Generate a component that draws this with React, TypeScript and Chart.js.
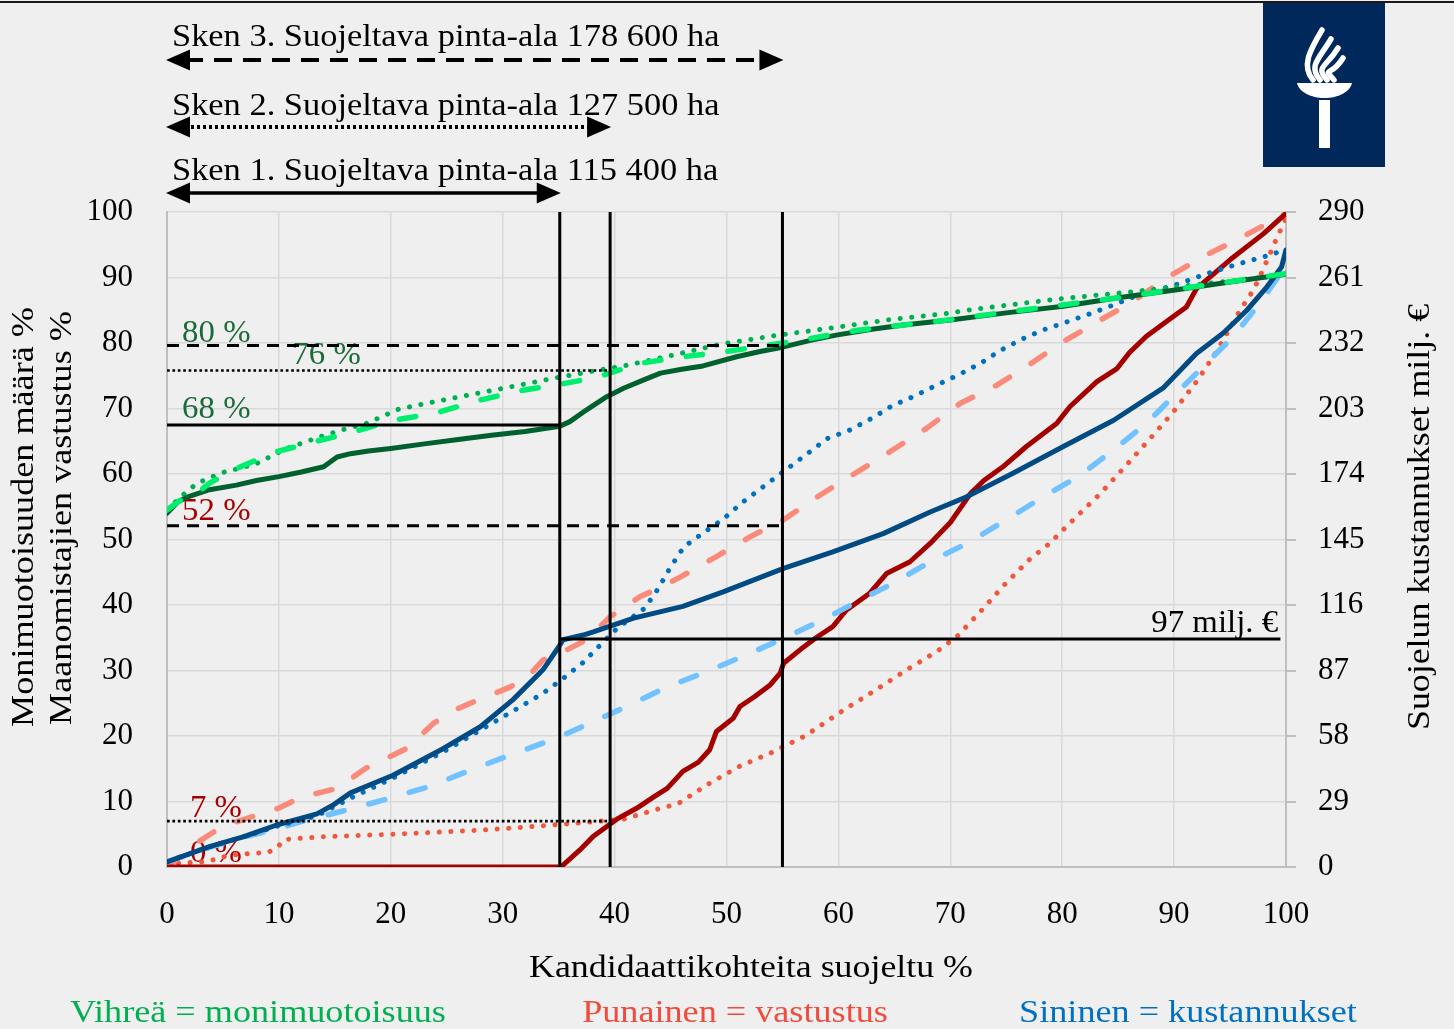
import React, { useEffect, useRef } from "react";
import { Chart, registerables } from "chart.js";

Chart.register(...registerables);

type P = [number, number];

const FONT = "'Liberation Serif', 'Times New Roman', serif";

// tick labels
const xTickValues = [0, 10, 20, 30, 40, 50, 60, 70, 80, 90, 100];
const leftTickValues = [0, 10, 20, 30, 40, 50, 60, 70, 80, 90, 100];
const rightTickValues = [0, 29, 58, 87, 116, 145, 174, 203, 232, 261, 290];

// Biodiversity (%), scenarios 1 (solid), 2 (dotted), 3 (dashed)
const diversity1: P[] = [
  [0, 54], [1, 55.8], [2, 56.6], [3.8, 57.6], [6.2, 58.3], [8, 59], [10, 59.6], [12, 60.3], [14, 61.1],
  [15.2, 62.6], [16.4, 63.1], [18, 63.5], [20, 63.9], [23, 64.6], [26.2, 65.3], [29, 65.9], [32, 66.5],
  [35.1, 67.3], [36, 68], [37.5, 69.8], [39.3, 71.8], [40.8, 73.1], [42.5, 74.3], [44.1, 75.4], [46, 76],
  [47.9, 76.5], [50.9, 77.9], [53, 78.7], [55.1, 79.4], [57.5, 80.4], [59.8, 81.2], [63, 82.1], [66, 82.8],
  [70, 83.5], [75, 84.6], [80.1, 85.6], [85, 86.9], [90.1, 88.1], [95, 89.3], [100, 90.5],
];
const diversity2: P[] = [
  [0, 54.5], [1.2, 56.5], [2.7, 58.6], [3.7, 59.3], [4.7, 60.1], [7.9, 61.5], [10.7, 63.9], [13.7, 65.7],
  [15.8, 66.8], [17.8, 67.7], [20.7, 69.9], [23.8, 71], [28, 72.4], [31.3, 73.5], [34.5, 74.6], [38.7, 75.9],
  [40.8, 76.5], [45.1, 78.1], [49.4, 79.8], [54.6, 81.2], [59, 82.2], [64.3, 83.5], [69.7, 84.5], [71.9, 85.1],
  [79.5, 86.7], [86.1, 87.8], [92, 88.9], [98.3, 90.1], [100, 90.6],
];
const diversity3: P[] = [
  [0, 54.5], [1.2, 56], [2.65, 57], [3.8, 58.6], [5.9, 60.6], [7.8, 62], [9.8, 63.4], [13.1, 64.9], [15, 65.7],
  [17.2, 66.7], [20.2, 68.2], [22, 68.7], [24.4, 69.5], [28, 71.3], [31.8, 72.8], [35.1, 73.7], [37, 74.3],
  [39, 75.1], [42.3, 76.9], [46.1, 77.9], [50, 78.7], [53.9, 79.7], [57.5, 80.7], [61.6, 81.9], [65, 82.6],
  [68.8, 83.3], [75, 84.7], [80, 85.8], [85, 86.9], [91.4, 88.5], [95.6, 89.5], [100, 90.6],
];

// Landowner opposition (%)
const opposition1: P[] = [
  [0, 0], [35.2, 0], [36.9, 2.6], [38.1, 4.7], [40.2, 7.3], [42, 9], [43.5, 10.7], [44.7, 12], [46.1, 14.6],
  [47.5, 16], [48.5, 17.9], [49.1, 20.7], [50.6, 22.7], [51.2, 24.5], [52.5, 26], [53.9, 27.8], [54.8, 29.6],
  [55.1, 31.1], [56.9, 33.6], [58, 35], [59.5, 36.7], [60.7, 39.2], [62.8, 41.8], [64.3, 44.8], [66.4, 46.6],
  [68.2, 49.4], [70, 52.6], [71.8, 57], [73, 59], [74.7, 61.1], [76.8, 64.2], [79.5, 67.7], [80.7, 70.3],
  [83.1, 74.1], [84.9, 76.1], [86, 78.5], [87.5, 81], [89.5, 83.5], [91.1, 85.5], [92, 88.3], [95, 92.7],
  [98, 96.7], [100, 99.8],
];
const opposition2: P[] = [
  [0, 0.3], [1.2, 0.6], [3.5, 0.8], [5.6, 1.8], [7.7, 2.1], [9, 2.2], [9.8, 2.9], [10.5, 4.2], [13.7, 4.6],
  [20.2, 5], [27.7, 5.6], [32.1, 6.1], [36.6, 6.7], [40.8, 7.3], [43.8, 8.8], [45.7, 9.7], [48.5, 12.8],
  [51.2, 15.4], [54.2, 17.6], [57, 20], [60.6, 24.1], [63.3, 27], [66.1, 30.1], [68.8, 32.9], [70.6, 35.2],
  [72.7, 39], [74.9, 43.2], [77.1, 47], [78.8, 49.3], [81.1, 53.2], [83.4, 57], [85.6, 61.1], [87.8, 65.3],
  [89.9, 69.4], [92, 74.1], [93.8, 78.7], [95.9, 85], [97.1, 88.1], [98, 91.4], [99.3, 96.5], [100, 99],
];
const opposition3: P[] = [
  [0, 0], [1.2, 1.6], [2.5, 3.5], [4.4, 5.6], [6, 6.8], [8, 7.9], [10, 9], [11.9, 10.6], [15.2, 12],
  [17.8, 15.1], [19.5, 16.5], [21.4, 18.1], [23.8, 21.9], [25.5, 23.8], [27.1, 25], [30.7, 27.5], [32.5, 29.5],
  [33.6, 31.6], [35.1, 32.6], [37.5, 34.7], [39.6, 38.2], [42.3, 41.3], [44, 42.6], [45.9, 44.3], [49.1, 47.4],
  [52.1, 50.4], [55.1, 53], [58.1, 56.5], [61, 59.6], [64.6, 63.4], [67.9, 67], [70.9, 70.8], [74.2, 73.6],
  [76.8, 76.4], [80.1, 80.2], [83.4, 83.5], [86.1, 86.1], [89.3, 89.9], [92.6, 93.2], [95.9, 96], [100, 99.8],
];

// Protection costs (milj. €, right axis)
const cost1: P[] = [
  [0, 2.3], [3.8, 9], [6.8, 13.3], [9.8, 18.6], [13.4, 23.5], [14.9, 27.6], [16.4, 32.8], [20.2, 40.6],
  [24.7, 52.5], [28, 62.1], [30.9, 74], [33.6, 87.3], [35, 97.4], [35.4, 100.6], [37.2, 102.7], [38.1, 104.1],
  [41.7, 110.2], [46.1, 115.4], [49.7, 121.8], [55.1, 132.2], [59.5, 139.5], [64, 147.6], [68.2, 157.2],
  [71.2, 163.3], [75.6, 174.3], [80.1, 186.2], [84.6, 197.8], [89, 212], [92, 227.4], [94.4, 236.4],
  [96.5, 246.5], [98.3, 256.9], [99.6, 265.6], [100, 273.2],
];
const cost2: P[] = [
  [0, 2.3], [3.8, 9], [6.8, 13.3], [9.8, 18], [13.4, 22.6], [16.4, 30.5], [20.2, 39.4], [24.7, 51],
  [28, 60.6], [31.8, 71.6], [33.6, 76.9], [35.4, 83.5], [37.1, 90.2], [38.6, 97.7], [40.2, 105.6],
  [42.7, 114.6], [43.9, 123.3], [45, 132.8], [46.2, 141.8], [48, 148.2], [49.7, 154], [51.3, 161],
  [53, 167.3], [54.8, 174], [57.3, 183.3], [59, 189.7], [61, 193.4], [63, 198.7], [64.8, 204.2],
  [66.8, 208.5], [68.8, 213.4], [70.7, 217.8], [72.7, 223], [74.4, 228.5], [76.4, 233.7], [78.3, 237.8],
  [80.4, 241.3], [82.4, 244.8], [84.4, 248.5], [86.5, 252.6], [88.6, 255.5], [90.7, 258.7], [92.8, 262.5],
  [94.8, 265.6], [96.8, 268.5], [98.9, 271.4], [100, 274],
];
const cost3: P[] = [
  [0, 2.3], [3.8, 8.7], [6.8, 13.1], [9.8, 16.8], [11.9, 20], [15.8, 24.9], [19.3, 29.6], [23.5, 35.7],
  [27.1, 42.9], [30.7, 49.6], [33.9, 55.4], [35.1, 57.7], [38.1, 64.4], [41.1, 71.1], [44.7, 79.8],
  [48.2, 86.4], [51.8, 94], [55.1, 101.2], [58.9, 110.2], [62.2, 118.9], [64.9, 125.6], [68.5, 136],
  [71.5, 143.3], [75, 153.7], [78.3, 163.9], [81.6, 173.4], [84.6, 184.7], [87.5, 196.3], [90.2, 209.7],
  [92.6, 221.6], [95.3, 234.9], [97.4, 248], [99.1, 259.8], [100, 266.8],
];

// Scenario cut points (% of candidate sites protected) and reference levels
const scenarioCuts = [35.1, 39.6, 55];
const scenarioTitles = [
  "Sken 1. Suojeltava pinta-ala 115 400 ha",
  "Sken 2. Suojeltava pinta-ala 127 500 ha",
  "Sken 3. Suojeltava pinta-ala 178 600 ha",
];
const diversityLevels = [67.5, 75.8, 79.6];
const diversityLabels = ["68 %", "76 %", "80 %"];
const oppositionLevels = [0, 7, 52.1];
const oppositionLabels = ["0 %", "7 %", "52 %"];
const costLevel = 101;
const costLabel = "97 milj. €";

const BG = "#efefef";
const GRID = "#d9d9d9";
const AXIS = "#bfbfbf";

function mk(data: P[], color: string, width: number, dash: number[], axis = "y", cap = "round") {
  return {
    data: data.map(([x, y]) => ({ x, y })),
    borderColor: color,
    backgroundColor: color,
    borderWidth: width,
    borderDash: dash,
    borderCapStyle: cap,
    borderJoinStyle: "round",
    yAxisID: axis,
    pointRadius: 0,
    fill: false,
    tension: 0,
  };
}

const DOT = [0.1, 11.5];
const DASH = [16.5, 25.5];

function txt(
  ctx: CanvasRenderingContext2D,
  s: string,
  x: number,
  y: number,
  sx: number,
  rotate = false
) {
  ctx.save();
  ctx.translate(x, y);
  if (rotate) ctx.rotate(-Math.PI / 2);
  ctx.scale(sx, 1);
  ctx.fillText(s, 0, 0);
  ctx.restore();
}

function drawArrow(ctx: CanvasRenderingContext2D, x1: number, x2: number, y: number, dash: number[], lw: number) {
  ctx.save();
  ctx.strokeStyle = "#000";
  ctx.fillStyle = "#000";
  ctx.lineWidth = lw;
  ctx.setLineDash(dash);
  ctx.beginPath();
  ctx.moveTo(x1 + 18, y);
  ctx.lineTo(x2 - 18, y);
  ctx.stroke();
  ctx.setLineDash([]);
  ctx.beginPath();
  ctx.moveTo(x1 - 1, y);
  ctx.lineTo(x1 + 23, y - 10.5);
  ctx.lineTo(x1 + 23, y + 10.5);
  ctx.closePath();
  ctx.fill();
  ctx.beginPath();
  ctx.moveTo(x2 + 1, y);
  ctx.lineTo(x2 - 23, y - 10.5);
  ctx.lineTo(x2 - 23, y + 10.5);
  ctx.closePath();
  ctx.fill();
  ctx.restore();
}

function drawLogo(ctx: CanvasRenderingContext2D) {
  ctx.save();
  ctx.fillStyle = "#00285a";
  ctx.fillRect(1263, 3, 122, 164);
  ctx.fillStyle = "#ffffff";
  ctx.strokeStyle = "#ffffff";
  // stem
  ctx.fillRect(1319, 100, 11, 48);
  // bowl
  ctx.beginPath();
  ctx.moveTo(1297, 83);
  ctx.lineTo(1352, 83);
  ctx.bezierCurveTo(1350, 92, 1338, 98, 1324.5, 98);
  ctx.bezierCurveTo(1311, 98, 1299, 92, 1297, 83);
  ctx.closePath();
  ctx.fill();
  // flame strands
  ctx.lineCap = "round";
  ctx.lineWidth = 5.5;
  const strands: [number, number, number, number][] = [
    [1313, 80, 1322, 30],
    [1320, 80, 1331, 39],
    [1327, 80, 1338, 48],
    [1334, 80, 1343, 58],
  ];
  for (const [bx, by, tx, ty] of strands) {
    ctx.beginPath();
    ctx.moveTo(bx, by);
    ctx.bezierCurveTo(bx - 12, by - 14, tx - 12, ty + 20, tx, ty);
    ctx.stroke();
  }
  ctx.restore();
}

const overlay = {
  id: "overlay",
  beforeDraw(chart: any) {
    const ctx = chart.ctx as CanvasRenderingContext2D;
    ctx.save();
    ctx.fillStyle = BG;
    ctx.fillRect(0, 0, chart.width, chart.height);
    ctx.restore();
  },
  beforeDatasetsDraw(chart: any) {
    const ctx = chart.ctx as CanvasRenderingContext2D;
    const xs = chart.scales.x;
    const yl = chart.scales.y;
    const yr = chart.scales.y2;
    ctx.save();
    ctx.font = `31px ${FONT}`;
    ctx.textBaseline = "alphabetic";
    ctx.textAlign = "left";
    const green = "#1b6b3a";
    const red = "#a80000";
    const k = 1.06;
    ctx.fillStyle = green;
    txt(ctx, diversityLabels[2], xs.getPixelForValue(1.35), yl.getPixelForValue(diversityLevels[2]) - 4, k);
    txt(ctx, diversityLabels[1], xs.getPixelForValue(11.2), yl.getPixelForValue(diversityLevels[1]) - 6.5, k);
    txt(ctx, diversityLabels[0], xs.getPixelForValue(1.35), yl.getPixelForValue(diversityLevels[0]) - 6.5, k);
    ctx.fillStyle = red;
    txt(ctx, oppositionLabels[2], xs.getPixelForValue(1.35), yl.getPixelForValue(oppositionLevels[2]) - 5.5, k);
    txt(ctx, oppositionLabels[1], xs.getPixelForValue(2.05), yl.getPixelForValue(oppositionLevels[1]) - 4.5, k);
    txt(ctx, oppositionLabels[0], xs.getPixelForValue(2.05), yl.getPixelForValue(oppositionLevels[0]) - 5.5, k);
    ctx.fillStyle = "#000";
    ctx.textAlign = "right";
    txt(ctx, costLabel, xs.getPixelForValue(99.3), yr.getPixelForValue(costLevel) - 7, k);
    ctx.restore();
  },
  afterDraw(chart: any) {
    const ctx = chart.ctx as CanvasRenderingContext2D;
    const xs = chart.scales.x;
    ctx.save();
    // top border
    ctx.fillStyle = "#1a1a1a";
    ctx.fillRect(0, 1, chart.width, 2);

    // scenario arrows and titles
    const x0 = xs.getPixelForValue(0);
    const k = 1.11;
    ctx.font = `31px ${FONT}`;
    ctx.fillStyle = "#000";
    ctx.textAlign = "left";
    ctx.textBaseline = "alphabetic";
    txt(ctx, scenarioTitles[2], 172, 46, k);
    txt(ctx, scenarioTitles[1], 172, 115, k);
    txt(ctx, scenarioTitles[0], 172, 180, k);
    drawArrow(ctx, x0, xs.getPixelForValue(scenarioCuts[2]), 60, [18, 11], 4);
    drawArrow(ctx, x0, xs.getPixelForValue(scenarioCuts[1]), 127, [3, 3], 4);
    drawArrow(ctx, x0, xs.getPixelForValue(scenarioCuts[0]), 193, [], 3.5);

    // axis titles
    ctx.textAlign = "center";
    ctx.textBaseline = "middle";
    ctx.font = `32px ${FONT}`;
    txt(ctx, "Kandidaattikohteita suojeltu %", 751, 969, 1.12);
    ctx.fillStyle = "#00b050";
    txt(ctx, "Vihreä = monimuotoisuus", 258, 1014, 1.13);
    ctx.fillStyle = "#f04b3c";
    txt(ctx, "Punainen = vastustus", 735, 1014, 1.13);
    ctx.fillStyle = "#0070c0";
    txt(ctx, "Sininen = kustannukset", 1188, 1014, 1.13);

    ctx.fillStyle = "#000";
    txt(ctx, "Monimuotoisuuden määrä %", 25, 517, 1.13, true);
    txt(ctx, "Maanomistajien vastustus %", 63, 518, 1.13, true);
    txt(ctx, "Suojelun kustannukset milj. €", 1421, 517, 1.12, true);

    drawLogo(ctx);
    ctx.restore();
  },
};

export default function App() {
  const ref = useRef<HTMLCanvasElement | null>(null);

  useEffect(() => {
    document.body.style.margin = "0";
    document.body.style.background = BG;
    const canvas = ref.current;
    if (!canvas) return;

    const black = "#000000";
    const annotations = [
      mk([[scenarioCuts[0], 0], [scenarioCuts[0], 100]], black, 3, [], "y", "butt"),
      mk([[scenarioCuts[1], 0], [scenarioCuts[1], 100]], black, 3, [], "y", "butt"),
      mk([[scenarioCuts[2], 0], [scenarioCuts[2], 100]], black, 3, [], "y", "butt"),
      mk([[0, diversityLevels[0]], [scenarioCuts[0], diversityLevels[0]]], black, 3, [], "y", "butt"),
      mk([[0, diversityLevels[1]], [scenarioCuts[1], diversityLevels[1]]], black, 2.7, [2.7, 2.7], "y", "butt"),
      mk([[0, diversityLevels[2]], [scenarioCuts[2], diversityLevels[2]]], black, 3, [12, 8], "y", "butt"),
      mk([[0, oppositionLevels[1]], [scenarioCuts[1], oppositionLevels[1]]], black, 2.7, [2.7, 2.7], "y", "butt"),
      mk([[0, oppositionLevels[2]], [scenarioCuts[2], oppositionLevels[2]]], black, 3, [12, 8], "y", "butt"),
      mk([[scenarioCuts[0], costLevel], [99.5, costLevel]], black, 3, [], "y2", "butt"),
    ];

    const series = [
      mk(diversity3, "#00ee6e", 5.5, DASH),
      mk(diversity1, "#00612e", 5, [], "y", "round"),
      mk(diversity2, "#00b050", 5, DOT),
      mk(cost1, "#004b83", 5, [], "y2", "round"),
      mk(cost2, "#0070c0", 5, DOT, "y2"),
      mk(cost3, "#72c2ff", 5.5, DASH, "y2"),
      mk(opposition1, "#a50000", 5, [], "y", "round"),
      mk(opposition3, "#fa8a7a", 5.5, DASH),
      mk(opposition2, "#f0573b", 5, DOT),
    ];

    const tickFont = { family: FONT, size: 31 };

    const chart = new Chart(canvas, {
      type: "line",
      data: { datasets: [...annotations, ...series] as any },
      options: {
        responsive: false,
        animation: false,
        layout: { padding: { top: 212, left: 0, right: 0, bottom: 0 } },
        plugins: { legend: { display: false }, tooltip: { enabled: false } },
        scales: {
          x: {
            type: "linear",
            min: 0,
            max: 100,
            afterBuildTicks: (s: any) => {
              s.ticks = xTickValues.map((v) => ({ value: v }));
            },
            afterFit: (s: any) => {
              s.height = 162;
            },
            grid: { color: GRID, lineWidth: 1.5, drawTicks: false },
            border: { color: AXIS, width: 2 },
            ticks: { color: "#000", font: tickFont, padding: 29, maxRotation: 0, autoSkip: false },
          },
          y: {
            type: "linear",
            position: "left",
            min: 0,
            max: 100,
            afterBuildTicks: (s: any) => {
              s.ticks = leftTickValues.map((v) => ({ value: v }));
            },
            afterFit: (s: any) => {
              s.width = 167;
            },
            grid: { color: GRID, lineWidth: 1.5, drawTicks: false },
            border: { color: AXIS, width: 2 },
            ticks: { color: "#000", font: tickFont, padding: 34, autoSkip: false },
          },
          y2: {
            type: "linear",
            position: "right",
            min: 0,
            max: 290,
            afterBuildTicks: (s: any) => {
              s.ticks = rightTickValues.map((v) => ({ value: v }));
            },
            afterFit: (s: any) => {
              s.width = 168;
            },
            grid: { drawOnChartArea: false, tickLength: 10, color: AXIS, lineWidth: 2 },
            border: { color: AXIS, width: 2 },
            ticks: { color: "#000", font: tickFont, padding: 22, autoSkip: false },
          },
        },
      } as any,
      plugins: [overlay as any],
    });

    return () => chart.destroy();
  }, []);

  return (
    <div style={{ width: 1454, height: 1029, background: BG }}>
      <canvas ref={ref} width={1454} height={1029} style={{ display: "block" }} />
    </div>
  );
}
